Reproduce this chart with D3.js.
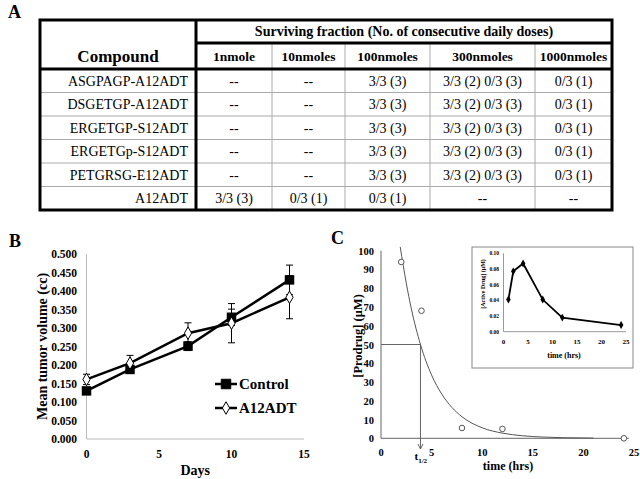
<!DOCTYPE html>
<html><head><meta charset="utf-8">
<script src="https://cdn.jsdelivr.net/npm/d3@7"></script>
<style>body{margin:0;background:#fff} svg{display:block} text{font-family:"Liberation Serif","Times New Roman",serif;fill:#000}</style>
</head><body>
<svg id="c" width="640" height="479"></svg>
<script>
// ---------- DATA ----------
const compounds = ["ASGPAGP-A12ADT","DSGETGP-A12ADT","ERGETGP-S12ADT","ERGETGp-S12ADT","PETGRSG-E12ADT","A12ADT"];
const doses = ["1nmole","10nmoles","100nmoles","300nmoles","1000nmoles"];
const survival = [
  ["--","--","3/3 (3)","3/3 (2) 0/3 (3)","0/3 (1)"],
  ["--","--","3/3 (3)","3/3 (2) 0/3 (3)","0/3 (1)"],
  ["--","--","3/3 (3)","3/3 (2) 0/3 (3)","0/3 (1)"],
  ["--","--","3/3 (3)","3/3 (2) 0/3 (3)","0/3 (1)"],
  ["--","--","3/3 (3)","3/3 (2) 0/3 (3)","0/3 (1)"],
  ["3/3 (3)","0/3 (1)","0/3 (1)","--","--"]
];
const days = [0,3,7,10,14];
const controlMean = [0.130,0.188,0.251,0.329,0.430];
const controlErr  = [0.007,0.008,0.012,0.022,0.040];
const a12Mean = [0.161,0.205,0.286,0.313,0.383];
const a12Err  = [0.014,0.021,0.028,0.053,0.058];
const volTicks = [0,0.05,0.1,0.15,0.2,0.25,0.3,0.35,0.4,0.45,0.5];
const dayTicks = [0,5,10,15];

const prodrugT = [2,4,8,12,24];
const prodrugV = [94,68,5.5,5,0];
const fitT = [1.9,2.5,3,3.9,5,6,7,8,10,12,14,16,18,21];
const fitV = [102,82.6,69,50,33.7,23.6,16.5,11.5,5.6,2.75,1.35,0.66,0.32,0.11];
const halfLife = 3.9;
const prodTicksY = [0,10,20,30,40,50,60,70,80,90,100];
const timeTicks = [0,5,10,15,20,25];

const activeT = [1,2,4,8,12,24];
const activeV = [0.041,0.077,0.087,0.041,0.018,0.0085];
const activeTicksY = [0,0.02,0.04,0.06,0.08,0.10];

// ---------- SVG ----------
const svg = d3.select("#c");

// panel letters
[["A",8,18],["B",9,247],["C",331,244]].forEach(([t,x,y])=>{
  svg.append("text").attr("x",x).attr("y",y).attr("font-size",18).attr("font-weight","bold").text(t);
});

// ---------- TABLE (Panel A) ----------
const colX = [40,196,272,345,430,535,612];
const tTop = 20, hMid = 43, hBot = 69, tBot = 210;
const rowScale = d3.scaleBand().domain(d3.range(compounds.length)).range([hBot,tBot]);
const tbl = svg.append("g");
rowScale.domain().slice(1).forEach(i=>{
  tbl.append("line").attr("x1",colX[0]).attr("x2",colX[6]).attr("y1",rowScale(i)).attr("y2",rowScale(i))
    .attr("stroke","#aaa").attr("stroke-width",1);
});
for(let c=2;c<6;c++){
  tbl.append("line").attr("x1",colX[c]).attr("x2",colX[c]).attr("y1",hMid).attr("y2",tBot)
    .attr("stroke","#aaa").attr("stroke-width",1);
}
tbl.append("rect").attr("x",colX[0]).attr("y",tTop).attr("width",colX[6]-colX[0]).attr("height",tBot-tTop)
  .attr("fill","none").attr("stroke","#000").attr("stroke-width",3);
tbl.append("line").attr("x1",colX[1]).attr("x2",colX[1]).attr("y1",tTop).attr("y2",tBot).attr("stroke","#000").attr("stroke-width",3);
tbl.append("line").attr("x1",colX[0]).attr("x2",colX[6]).attr("y1",hBot).attr("y2",hBot).attr("stroke","#000").attr("stroke-width",3);
tbl.append("line").attr("x1",colX[1]).attr("x2",colX[6]).attr("y1",hMid).attr("y2",hMid).attr("stroke","#000").attr("stroke-width",3);
tbl.append("text").attr("x",(colX[1]+colX[6])/2).attr("y",36).attr("text-anchor","middle")
  .attr("font-size",14).attr("font-weight","bold").text("Surviving fraction (No. of consecutive daily doses)");
tbl.append("text").attr("x",(colX[0]+colX[1])/2).attr("y",62).attr("text-anchor","middle")
  .attr("font-size",17).attr("font-weight","bold").text("Compound");
doses.forEach((d,i)=>{
  tbl.append("text").attr("x",(colX[i+1]+colX[i+2])/2).attr("y",61).attr("text-anchor","middle")
    .attr("font-size",13.5).attr("font-weight","bold").text(d);
});
compounds.forEach((c,i)=>{
  const cy = rowScale(i)+rowScale.bandwidth()/2+5;
  tbl.append("text").attr("x",colX[1]-8).attr("y",cy).attr("text-anchor","end").attr("font-size",14).text(c);
  survival[i].forEach((v,j)=>{
    tbl.append("text").attr("x",(colX[j+1]+colX[j+2])/2).attr("y",cy).attr("text-anchor","middle")
      .attr("font-size",14).text(v);
  });
});

// ---------- PANEL B ----------
const xB = d3.scaleLinear().domain([0,15]).range([86.5,304]);
const yB = d3.scaleLinear().domain([0,0.5]).range([439,254]);
const gB = svg.append("g");
gB.append("line").attr("x1",xB(0)).attr("x2",xB(0)).attr("y1",yB(0)).attr("y2",yB(0.5)).attr("stroke","#bbb");
gB.append("line").attr("x1",xB(0)).attr("x2",xB(15)).attr("y1",yB(0)).attr("y2",yB(0)).attr("stroke","#bbb");
volTicks.forEach(v=>{
  gB.append("text").attr("x",77).attr("y",yB(v)+4).attr("text-anchor","end").attr("font-size",11.5)
    .attr("font-weight","bold").text(d3.format(".3f")(v));
});
dayTicks.forEach(v=>{
  gB.append("text").attr("x",xB(v)).attr("y",458).attr("text-anchor","middle").attr("font-size",11.5)
    .attr("font-weight","bold").text(v);
});
gB.append("text").attr("x",xB(7.5)).attr("y",475).attr("text-anchor","middle").attr("font-size",14)
  .attr("font-weight","bold").text("Days");
gB.append("text").attr("transform",`translate(47,${(yB(0)+yB(0.5))/2}) rotate(-90)`).attr("text-anchor","middle")
  .attr("font-size",14).attr("font-weight","bold").text("Mean tumor volume (cc)");

function errBars(g, means, errs){
  days.forEach((d,i)=>{
    const x = xB(d), y1 = yB(means[i]-errs[i]), y2 = yB(means[i]+errs[i]);
    g.append("line").attr("x1",x).attr("x2",x).attr("y1",y1).attr("y2",y2).attr("stroke","#000").attr("stroke-width",1);
    [y1,y2].forEach(y=>g.append("line").attr("x1",x-3.5).attr("x2",x+3.5).attr("y1",y).attr("y2",y).attr("stroke","#000").attr("stroke-width",1));
  });
}
errBars(gB, controlMean, controlErr);
errBars(gB, a12Mean, a12Err);
const lineB = (m)=>d3.line().x((d,i)=>xB(days[i])).y(d=>yB(d))(m);
gB.append("path").attr("d",lineB(controlMean)).attr("fill","none").attr("stroke","#000").attr("stroke-width",2.5);
gB.append("path").attr("d",lineB(a12Mean)).attr("fill","none").attr("stroke","#000").attr("stroke-width",2.5);
const sq = d3.symbol().type(d3.symbolSquare).size(90);
const dm = d3.symbol().type(d3.symbolDiamond).size(45);
controlMean.forEach((v,i)=>gB.append("path").attr("d",sq()).attr("transform",`translate(${xB(days[i])},${yB(v)})`).attr("fill","#000"));
a12Mean.forEach((v,i)=>gB.append("path").attr("d",dm()).attr("transform",`translate(${xB(days[i])},${yB(v)})`).attr("fill","#fff").attr("stroke","#000").attr("stroke-width",1));
[["Control",384,sq,"#000"],["A12ADT",408,dm,"#fff"]].forEach(([t,y,s,f])=>{
  gB.append("line").attr("x1",215).attr("x2",237).attr("y1",y).attr("y2",y).attr("stroke","#000").attr("stroke-width",2.5);
  gB.append("path").attr("d",s()).attr("transform",`translate(226,${y})`).attr("fill",f).attr("stroke","#000").attr("stroke-width",1);
  gB.append("text").attr("x",239).attr("y",y+5).attr("font-size",15).attr("font-weight","bold").text(t);
});

// ---------- PANEL C ----------
const xC = d3.scaleLinear().domain([0,25]).range([381,634]);
const yC = d3.scaleLinear().domain([0,100]).range([438.3,250.7]);
const gC = svg.append("g");
gC.append("line").attr("x1",xC(0)).attr("x2",xC(0)).attr("y1",yC(0)).attr("y2",yC(100)).attr("stroke","#666");
gC.append("line").attr("x1",xC(0)).attr("x2",xC(24.5)).attr("y1",yC(0)).attr("y2",yC(0)).attr("stroke","#666");
prodTicksY.forEach(v=>{
  gC.append("text").attr("x",374).attr("y",yC(v)+4).attr("text-anchor","end").attr("font-size",10.5)
    .attr("font-weight","bold").text(v);
});
timeTicks.forEach(v=>{
  gC.append("text").attr("x",xC(v)).attr("y",456).attr("text-anchor","middle").attr("font-size",10.5)
    .attr("font-weight","bold").text(v);
});
gC.append("text").attr("x",508).attr("y",470).attr("text-anchor","middle").attr("font-size",12)
  .attr("font-weight","bold").text("time (hrs)");
gC.append("text").attr("transform",`translate(362,336) rotate(-90)`).attr("text-anchor","middle")
  .attr("font-size",12.5).attr("font-weight","bold").text("[Prodrug] (\u03BCM)");
// half-life guide
gC.append("line").attr("x1",xC(0)).attr("x2",xC(halfLife)).attr("y1",yC(50)).attr("y2",yC(50)).attr("stroke","#666");
gC.append("line").attr("x1",xC(halfLife)).attr("x2",xC(halfLife)).attr("y1",yC(50)).attr("y2",449).attr("stroke","#666");
gC.append("path").attr("d",`M${xC(halfLife)-2.5},444 L${xC(halfLife)},449 L${xC(halfLife)+2.5},444`).attr("fill","none").attr("stroke","#666");
const th = gC.append("text").attr("x",xC(halfLife)-6).attr("y",460).attr("font-size",11).attr("font-weight","bold");
th.append("tspan").text("t");
th.append("tspan").attr("dy",3).attr("font-size",7).text("1/2");
// fit curve
gC.append("path").attr("d",d3.line().x((d,i)=>xC(fitT[i])).y(d=>yC(d)).curve(d3.curveMonotoneX)(fitV))
  .attr("fill","none").attr("stroke","#555").attr("stroke-width",1);
prodrugT.forEach((t,i)=>gC.append("circle").attr("cx",xC(t)).attr("cy",yC(prodrugV[i])).attr("r",2.8)
  .attr("fill","#fff").attr("stroke","#555").attr("stroke-width",1));

// inset
const ins = svg.append("g");
ins.append("rect").attr("x",472).attr("y",247).attr("width",161).attr("height",121).attr("fill","#fff").attr("stroke","#888");
const xI = d3.scaleLinear().domain([0,25]).range([503.5,626]);
const yI = d3.scaleLinear().domain([0,0.1]).range([331.7,253.3]);
ins.append("line").attr("x1",xI(0)).attr("x2",xI(0)).attr("y1",yI(0)).attr("y2",yI(0.1)).attr("stroke","#999");
ins.append("line").attr("x1",xI(0)).attr("x2",xI(25)).attr("y1",yI(0)).attr("y2",yI(0)).attr("stroke","#999");
activeTicksY.forEach(v=>{
  ins.append("text").attr("x",499).attr("y",yI(v)+2).attr("text-anchor","end").attr("font-size",5.5)
    .attr("font-weight","bold").text(d3.format(".2f")(v));
});
timeTicks.forEach(v=>{
  ins.append("text").attr("x",xI(v)).attr("y",344).attr("text-anchor","middle").attr("font-size",7)
    .attr("font-weight","bold").text(v);
});
ins.append("text").attr("x",564).attr("y",358).attr("text-anchor","middle").attr("font-size",8)
  .attr("font-weight","bold").text("time (hrs)");
ins.append("text").attr("transform",`translate(485,284) rotate(-90)`).attr("text-anchor","middle")
  .attr("font-size",6).attr("font-weight","bold").text("[Active Drug] (\u03BCM)");
ins.append("path").attr("d",d3.line().x((d,i)=>xI(activeT[i])).y(d=>yI(d))(activeV))
  .attr("fill","none").attr("stroke","#000").attr("stroke-width",1.8);
const dmS = d3.symbol().type(d3.symbolDiamond).size(18);
activeV.forEach((v,i)=>ins.append("path").attr("d",dmS()).attr("transform",`translate(${xI(activeT[i])},${yI(v)})`).attr("fill","#000"));
</script>
</body></html>
